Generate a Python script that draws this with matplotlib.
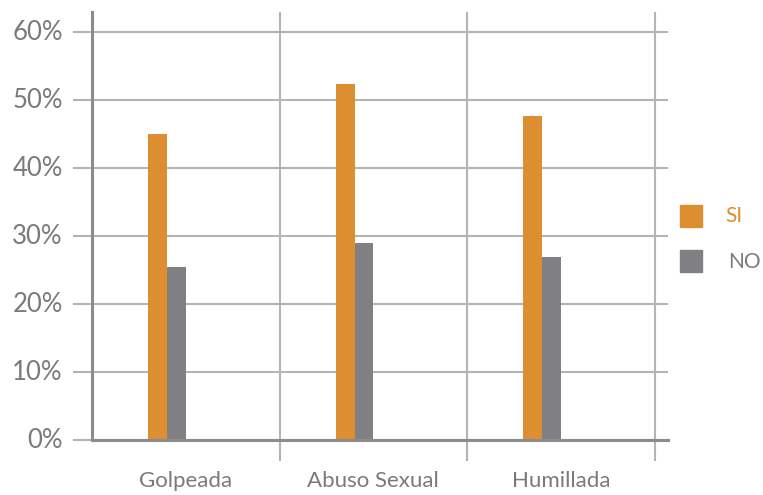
import numpy as np
import matplotlib.pyplot as plt
from matplotlib.patches import Rectangle

# Porcentajes por tipo de violencia
categorias = ['Golpeada', 'Abuso Sexual', 'Humillada']
si = [45.1, 52.4, 47.7]
no = [25.5, 29.0, 27.0]
marcas_y = [0, 10, 20, 30, 40, 50, 60]

naranja = '#DC8E30'
gris = '#808084'
gris_texto = '#7A7A7A'
gris_rejilla = '#B4B4B4'

plt.rcParams['font.family'] = ['Lato', 'DejaVu Sans']

fig = plt.figure(figsize=(7.63, 4.95), dpi=100)
ax = fig.add_axes([0.1206, 0.1111, 0.755, 0.8647])

x = np.arange(len(categorias))
ax.bar(x - 0.15, si, width=0.1, color=naranja, zorder=3)
ax.bar(x - 0.05, no, width=0.1, color=gris, zorder=3)

ax.set_ylim(0, 63)
ax.set_xlim(-0.5, 2.572)

# rejilla horizontal con marcas hacia la izquierda
ax.set_yticks(marcas_y)
ax.set_yticklabels([f'{v}%' for v in marcas_y])
ax.yaxis.grid(True, color=gris_rejilla, linewidth=1.5, zorder=1)
ax.tick_params(axis='y', length=14, width=1.5, color=gris_rejilla,
               labelsize=18.5, labelcolor=gris_texto, pad=7)
for lbl in ax.get_yticklabels():
    lbl.set_verticalalignment('center')

# separadores verticales entre categorías
ax.set_xticks([0.5, 1.5, 2.5])
ax.set_xticklabels([])
ax.xaxis.grid(True, color=gris_rejilla, linewidth=1.5, zorder=1)
ax.tick_params(axis='x', length=15, width=1.5, color=gris_rejilla)
for i, nombre in enumerate(categorias):
    ax.text(i, -0.095, nombre, transform=ax.get_xaxis_transform(),
            ha='center', va='center', fontsize=16, color=gris_texto)

for lado in ['top', 'right']:
    ax.spines[lado].set_visible(False)
ax.spines['left'].set_color('#8C8C8C')
ax.spines['left'].set_linewidth(2.2)
ax.spines['bottom'].set_color('#8C8C8C')
ax.spines['bottom'].set_linewidth(2.2)
ax.spines['bottom'].set_zorder(4)

# leyenda manual
fig.patches.append(Rectangle((680 / 763, 1 - 227 / 495), 22 / 763, 22 / 495,
                             transform=fig.transFigure, color=naranja))
fig.patches.append(Rectangle((680 / 763, 1 - 272 / 495), 22 / 763, 22 / 495,
                             transform=fig.transFigure, color=gris))
fig.text(725 / 763, 1 - 216 / 495, 'SI', color=naranja, fontsize=15, va='center')
fig.text(728 / 763, 1 - 262 / 495, 'NO', color='#7A7A7A', fontsize=15, va='center')

plt.savefig('out.png', dpi=100)
